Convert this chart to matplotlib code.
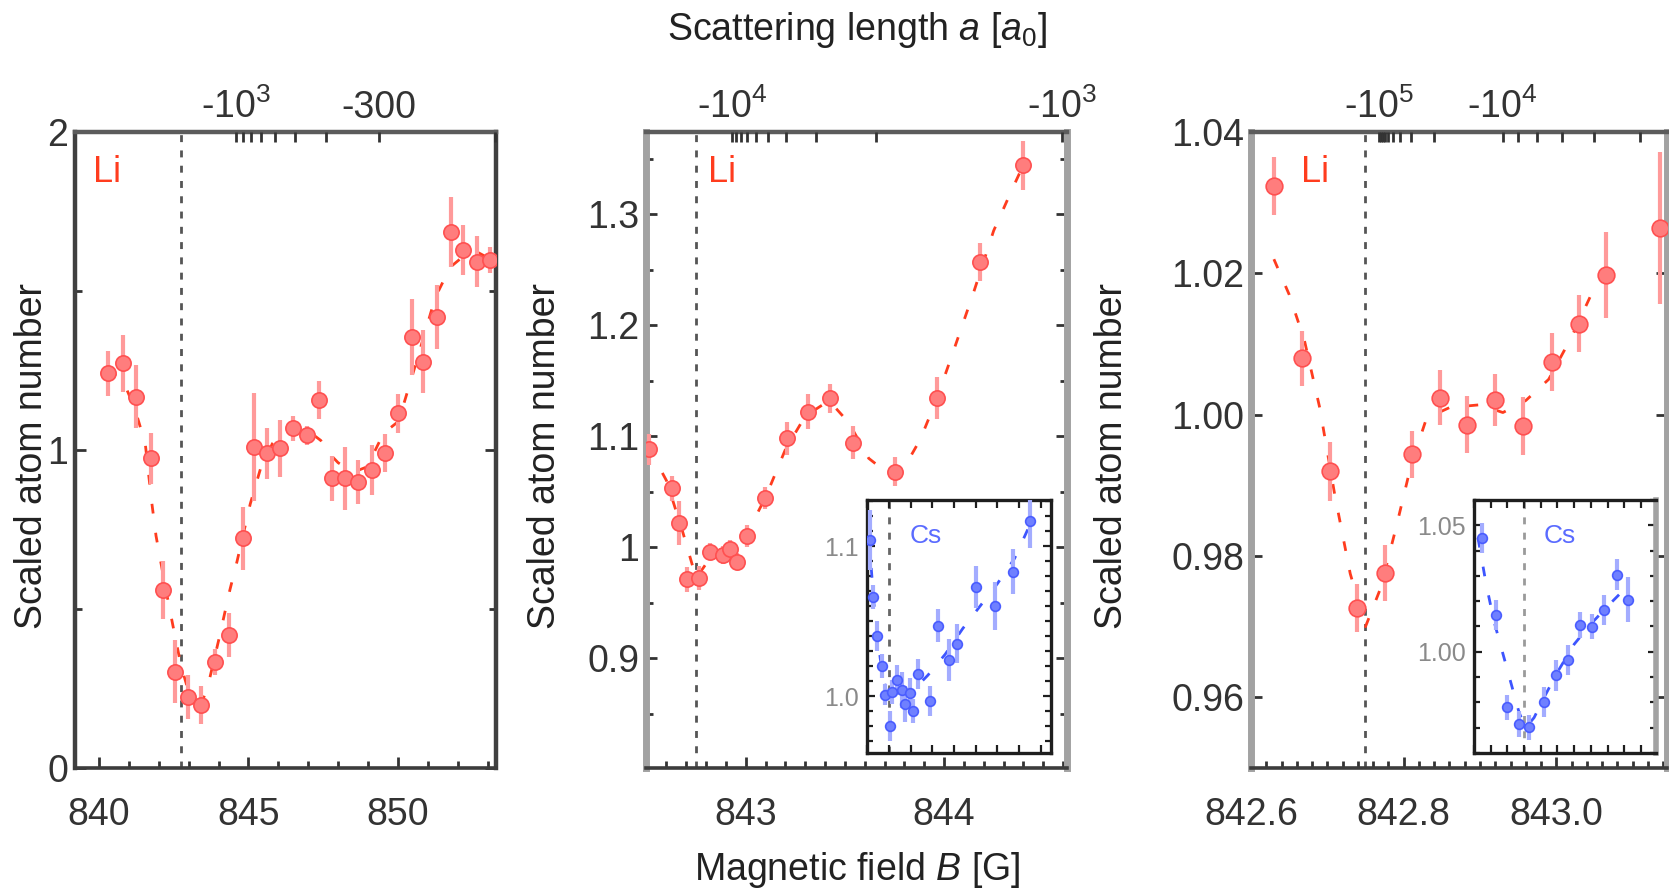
import matplotlib
matplotlib.use("Agg")
import matplotlib.pyplot as plt
from matplotlib.ticker import MultipleLocator, FormatStrFormatter

plt.rcParams['font.family'] = ['Liberation Sans', 'DejaVu Sans']
plt.rcParams['mathtext.fontset'] = 'custom'
plt.rcParams['mathtext.rm'] = 'Liberation Sans'
plt.rcParams['mathtext.it'] = 'Liberation Sans:italic'
plt.rcParams['mathtext.bf'] = 'Liberation Sans:bold'

# ---- dados ----
# painel 1 : Li, varredura larga
li1_B = [840.31, 840.81, 841.24, 841.73, 842.15, 842.54, 842.99, 843.43, 843.88, 844.36,
         844.81, 845.19, 845.61, 846.05, 846.50, 846.95, 847.37, 847.78, 848.23, 848.67,
         849.12, 849.57, 850.01, 850.46, 850.85, 851.31, 851.76, 852.18, 852.63, 853.08]
li1_N = [1.241, 1.273, 1.168, 0.974, 0.560, 0.303, 0.224, 0.198, 0.334, 0.418,
         0.722, 1.010, 0.990, 1.005, 1.068, 1.047, 1.157, 0.911, 0.911, 0.900,
         0.937, 0.990, 1.115, 1.356, 1.278, 1.419, 1.686, 1.629, 1.592, 1.597]
li1_err = [0.07, 0.09, 0.10, 0.08, 0.09, 0.10, 0.07, 0.06, 0.04, 0.07,
           0.10, 0.17, 0.08, 0.09, 0.04, 0.03, 0.06, 0.07, 0.10, 0.07,
           0.08, 0.06, 0.06, 0.12, 0.10, 0.10, 0.11, 0.08, 0.08, 0.04]
fit1_B = [840.30, 840.80, 841.20, 841.55, 841.76, 841.91, 842.20, 842.47, 842.75, 843.00,
          843.30, 843.50, 843.70, 844.00, 844.38, 844.62, 845.06, 845.40, 845.80, 846.20,
          846.60, 847.00, 847.42, 847.64, 848.00, 848.50, 848.97, 849.52, 850.02, 850.50,
          851.00, 851.25, 851.75, 852.20, 852.70, 853.10]
fit1_N = [1.25, 1.22, 1.13, 1.02, 0.84, 0.73, 0.58, 0.45, 0.32, 0.24,
          0.21, 0.22, 0.28, 0.40, 0.56, 0.65, 0.83, 0.94, 1.02, 1.06,
          1.07, 1.06, 1.03, 0.995, 0.96, 0.93, 0.947, 1.053, 1.09, 1.24,
          1.40, 1.48, 1.575, 1.61, 1.62, 1.60]

# painel 2 : Li perto da ressonancia + inset Cs
li2_B = [842.514, 842.627, 842.665, 842.705, 842.766, 842.820, 842.884, 842.921, 842.958, 843.005,
         843.097, 843.207, 843.316, 843.425, 843.540, 843.753, 843.963, 844.182, 844.400]
li2_N = [1.088, 1.053, 1.022, 0.971, 0.972, 0.996, 0.993, 0.998, 0.987, 1.010,
         1.044, 1.098, 1.122, 1.134, 1.094, 1.068, 1.134, 1.257, 1.344]
li2_err = [0.014, 0.011, 0.020, 0.011, 0.011, 0.008, 0.008, 0.008, 0.008, 0.010,
           0.010, 0.015, 0.016, 0.013, 0.015, 0.013, 0.019, 0.017, 0.022]
fit2_B = [842.51, 842.60, 842.68, 842.75, 842.80, 842.90, 843.00, 843.10, 843.20, 843.30,
          843.42, 843.52, 843.62, 843.72, 843.80, 843.88, 843.96, 844.05, 844.15, 844.25,
          844.35, 844.42]
fit2_N = [1.090, 1.060, 1.015, 0.972, 0.985, 0.996, 1.010, 1.045, 1.088, 1.118,
          1.132, 1.112, 1.080, 1.066, 1.072, 1.097, 1.132, 1.178, 1.230, 1.285,
          1.325, 1.352]
cs2_B = [842.535, 842.566, 842.610, 842.670, 842.710, 842.757, 842.785, 842.840, 842.900, 842.940,
         842.995, 843.030, 843.090, 843.220, 843.320, 843.440, 843.530, 843.760, 843.970, 844.180,
         844.380]
cs2_N = [1.104, 1.066, 1.040, 1.020, 1.001, 0.980, 1.003, 1.011, 1.004, 0.995,
         1.002, 0.990, 1.015, 0.997, 1.047, 1.024, 1.035, 1.073, 1.060, 1.083,
         1.117]
cs2_err = [0.020, 0.008, 0.010, 0.008, 0.007, 0.010, 0.008, 0.010, 0.012, 0.012,
           0.010, 0.008, 0.010, 0.010, 0.011, 0.014, 0.013, 0.014, 0.016, 0.015,
           0.018]
fitcs2_B = [842.52, 842.58, 842.65, 842.72, 842.80, 842.90, 843.00, 843.20, 843.40, 843.60,
            843.80, 844.00, 844.20, 844.42]
fitcs2_N = [1.105, 1.060, 1.025, 1.003, 0.996, 0.997, 1.002, 1.014, 1.028, 1.045,
            1.060, 1.075, 1.092, 1.120]

# painel 3 : Li bem perto do polo + inset Cs
li3_B = [842.630, 842.667, 842.703, 842.739, 842.775, 842.811, 842.848, 842.883, 842.920, 842.956,
         842.994, 843.030, 843.065, 843.136]
li3_N = [1.0323, 1.0080, 0.9920, 0.9727, 0.9776, 0.9944, 1.0024, 0.9986, 1.0021, 0.9984,
         1.0075, 1.0129, 1.0198, 1.0264]
li3_err = [0.0041, 0.0039, 0.0042, 0.0034, 0.0039, 0.0033, 0.0039, 0.0040, 0.0037, 0.0041,
           0.0041, 0.0041, 0.0061, 0.0107]
fit3_B = [842.630, 842.650, 842.670, 842.690, 842.710, 842.730, 842.750, 842.770, 842.790, 842.810,
          842.830, 842.860, 842.900, 842.930, 842.960, 842.990, 843.020, 843.050]
fit3_N = [1.0220, 1.0170, 1.0105, 1.0010, 0.9885, 0.9775, 0.9700, 0.9755, 0.9840, 0.9930,
          0.9995, 1.0010, 1.0014, 1.0003, 1.0020, 1.0050, 1.0110, 1.0180]
cs3_B = [842.625, 842.666, 842.700, 842.736, 842.766, 842.809, 842.845, 842.882, 842.918, 842.953,
         842.990, 843.027, 843.060]
cs3_N = [1.0451, 1.0146, 0.9781, 0.9715, 0.9702, 0.9801, 0.9907, 0.9967, 1.0106, 1.0099,
         1.0166, 1.0305, 1.0206]
cs3_err = [0.006, 0.006, 0.005, 0.005, 0.005, 0.006, 0.006, 0.006, 0.005, 0.005,
           0.006, 0.006, 0.009]
fitcs3_B = [842.612, 842.636, 842.660, 842.685, 842.710, 842.735, 842.755, 842.780, 842.810, 842.850,
            842.900, 842.950, 843.000, 843.060]
fitcs3_N = [1.045, 1.027, 1.012, 1.000, 0.988, 0.976, 0.970, 0.974, 0.982, 0.992,
            1.003, 1.011, 1.018, 1.026]

# ressonancia e eixo de cima (comprimento de espalhamento)
B_res = 842.75
a_bg = -29.4
delta = -60.9
top1_major = [-1000, -300]
top1_labels = ['-10$^{3}$', '-300']
top1_minor = [-900, -800, -700, -600, -500, -400, -200]
top2_major = [-10000, -1000]
top2_labels = ['-10$^{4}$', '-10$^{3}$']
top2_minor = [-9000, -8000, -7000, -6000, -5000, -4000, -3000, -2000]
top3_major = [-100000, -10000]
top3_labels = ['-10$^{5}$', '-10$^{4}$']
top3_minor = [-90000, -80000, -70000, -60000, -50000, -40000, -30000, -20000,
              -9000, -8000, -7000, -6000, -5000]


def field_at(a):
    # inverso de a(B) = a_bg * (1 - delta / (B - B_res))
    return B_res + a_bg * delta / (a_bg - a)


W, H = 1669, 889
fig = plt.figure(figsize=(W / 100, H / 100), dpi=100)


def box(x0, x1, y0, y1):  # retangulo em pixels -> fracao da figura
    return [x0 / W, 1 - y1 / H, (x1 - x0) / W, (y1 - y0) / H]


RED_LINE = '#ff3c1e'
RED_BAR = '#ff9a9a'
RED_FACE = '#ff7d7d'
RED_EDGE = '#ff5050'
BLUE_LINE = '#3d55ff'
BLUE_BAR = '#a3acff'
BLUE_FACE = '#6f80ff'
BLUE_EDGE = '#4a5dff'


def main_axes(rect, xlim, ylim, side_color, side_lw):
    ax = fig.add_axes(rect)
    ax.set_xlim(xlim)
    ax.set_ylim(ylim)
    for s in ['left', 'right']:
        ax.spines[s].set_color(side_color)
        ax.spines[s].set_linewidth(side_lw)
    ax.spines['bottom'].set_color('#3c3c3c')
    ax.spines['bottom'].set_linewidth(2.6)
    ax.spines['top'].set_color('#5c5c5c')
    ax.spines['top'].set_linewidth(3.2)
    ax.tick_params(which='both', direction='in', top=False, right=True,
                   colors='#333333', labelsize=27, width=2)
    ax.tick_params(which='major', length=8)
    ax.tick_params(which='minor', length=5)
    ax.tick_params(axis='x', pad=21)
    ax.tick_params(axis='y', pad=5)
    ax.axvline(B_res, color='#555555', lw=2, ls=(0, (2.5, 3)), zorder=1)
    return ax


def top_axis(ax, major, labels, minor):
    t = ax.twiny()
    t.set_xlim(ax.get_xlim())
    t.set_xticks([field_at(a) for a in major], labels=labels)
    t.set_xticks([field_at(a) for a in minor], minor=True)
    t.tick_params(which='both', direction='in', length=7, width=2,
                  colors='#333333', labelsize=27, pad=4)
    for s in t.spines.values():
        s.set_visible(False)
    return t


def inset_axes(rect, xlim, ylim, line_color):
    ins = fig.add_axes(rect)
    ins.set_xlim(xlim)
    ins.set_ylim(ylim)
    for s in ins.spines.values():
        s.set_color('#1e1e1e')
        s.set_linewidth(2.4)
    ins.tick_params(which='both', direction='in', top=True, right=True,
                    color='#1e1e1e', width=1.6, labelsize=18, labelcolor='#8a8a8a',
                    labelbottom=False, pad=6)
    ins.tick_params(which='major', length=6)
    ins.tick_params(which='minor', length=4)
    ins.axvline(B_res, color=line_color, lw=2, ls=(0, (2.5, 3)), zorder=1)
    return ins


def draw(ax, B, N, err, fB, fN, line, bar, face, edge, ms):
    ax.plot(fB, fN, color=line, lw=2, ls=(0, (3.5, 7)), zorder=2)
    ax.errorbar(B, N, yerr=err, fmt='o', ms=ms, mfc=face, mec=edge, mew=1.2,
                ecolor=bar, elinewidth=3, capsize=0, zorder=3)


# ---- painel 1 ----
ax1 = main_axes(box(75, 496, 132, 768), (839.2, 853.28), (0, 2), '#404040', 3.2)
ax1.xaxis.set_major_locator(MultipleLocator(5))
ax1.xaxis.set_minor_locator(MultipleLocator(1))
ax1.yaxis.set_major_locator(MultipleLocator(1))
ax1.yaxis.set_minor_locator(MultipleLocator(0.5))
ax1.xaxis.set_major_formatter(FormatStrFormatter('%g'))
ax1.yaxis.set_major_formatter(FormatStrFormatter('%g'))
draw(ax1, li1_B, li1_N, li1_err, fit1_B, fit1_N, RED_LINE, RED_BAR, RED_FACE, RED_EDGE, 11)
ax1.text(0.042, 0.922, 'Li', transform=ax1.transAxes, color=RED_LINE, fontsize=26, va='baseline')
top_axis(ax1, top1_major, top1_labels, top1_minor)

# ---- painel 2 ----
ax2 = main_axes(box(646, 1067, 132, 768), (842.497, 844.62), (0.801, 1.374), '#a2a2a2', 5)
ax2.xaxis.set_major_locator(MultipleLocator(1))
ax2.xaxis.set_minor_locator(MultipleLocator(0.1))
ax2.yaxis.set_major_locator(MultipleLocator(0.1))
ax2.yaxis.set_minor_locator(MultipleLocator(0.05))
ax2.xaxis.set_major_formatter(FormatStrFormatter('%g'))
ax2.yaxis.set_major_formatter(FormatStrFormatter('%g'))
draw(ax2, li2_B, li2_N, li2_err, fit2_B, fit2_N, RED_LINE, RED_BAR, RED_FACE, RED_EDGE, 11)
ax2.text(0.147, 0.922, 'Li', transform=ax2.transAxes, color=RED_LINE, fontsize=26, va='baseline')
top_axis(ax2, top2_major, top2_labels, top2_minor)

in2 = inset_axes(box(867, 1051, 500, 753), (842.497, 844.62), (0.962, 1.131), '#666666')
in2.xaxis.set_major_locator(MultipleLocator(0.25))
in2.yaxis.set_major_locator(MultipleLocator(0.1))
in2.yaxis.set_minor_locator(MultipleLocator(0.01))
in2.yaxis.set_major_formatter(FormatStrFormatter('%.1f'))
draw(in2, cs2_B, cs2_N, cs2_err, fitcs2_B, fitcs2_N, BLUE_LINE, BLUE_BAR, BLUE_FACE, BLUE_EDGE, 7)
in2.text(0.234, 0.829, 'Cs', transform=in2.transAxes, color='#5a6bff', fontsize=19, va='baseline')

# ---- painel 3 ----
ax3 = main_axes(box(1251, 1667, 132, 768), (842.6, 843.145), (0.95, 1.04), '#a2a2a2', 5)
ax3.xaxis.set_major_locator(MultipleLocator(0.2))
ax3.xaxis.set_minor_locator(MultipleLocator(0.02))
ax3.yaxis.set_major_locator(MultipleLocator(0.02))
ax3.xaxis.set_major_formatter(FormatStrFormatter('%.1f'))
ax3.yaxis.set_major_formatter(FormatStrFormatter('%.2f'))
draw(ax3, li3_B, li3_N, li3_err, fit3_B, fit3_N, RED_LINE, RED_BAR, RED_FACE, RED_EDGE, 12)
ax3.text(0.119, 0.922, 'Li', transform=ax3.transAxes, color=RED_LINE, fontsize=26, va='baseline')
top_axis(ax3, top3_major, top3_labels, top3_minor)

in3 = inset_axes(box(1474, 1656, 500, 753), (842.6, 843.145), (0.96, 1.06), '#9a9a9a')
in3.spines['right'].set_color('#a2a2a2')
in3.spines['right'].set_linewidth(4)
in3.xaxis.set_major_locator(MultipleLocator(0.05))
in3.yaxis.set_major_locator(MultipleLocator(0.05))
in3.yaxis.set_minor_locator(MultipleLocator(0.01))
in3.yaxis.set_major_formatter(FormatStrFormatter('%.2f'))
draw(in3, cs3_B, cs3_N, cs3_err, fitcs3_B, fitcs3_N, BLUE_LINE, BLUE_BAR, BLUE_FACE, BLUE_EDGE, 7)
in3.text(0.381, 0.829, 'Cs', transform=in3.transAxes, color='#5a6bff', fontsize=19, va='baseline')

# rotulos dos eixos
for ax, xl in [(ax1, -0.102), (ax2, -0.24), (ax3, -0.335)]:
    ax.set_ylabel('Scaled atom number', fontsize=27, color='#222222', va='center')
    ax.yaxis.set_label_coords(xl, 0.49)

fig.text(857 / W, 1 - 30 / H, 'Scattering length $a$ [$a_0$]', ha='center', va='center',
         fontsize=27, color='#222222')
fig.text(857 / W, 1 - 870 / H, 'Magnetic field $B$ [G]', ha='center', va='center',
         fontsize=27, color='#222222')

fig.savefig('out.png', dpi=100)
